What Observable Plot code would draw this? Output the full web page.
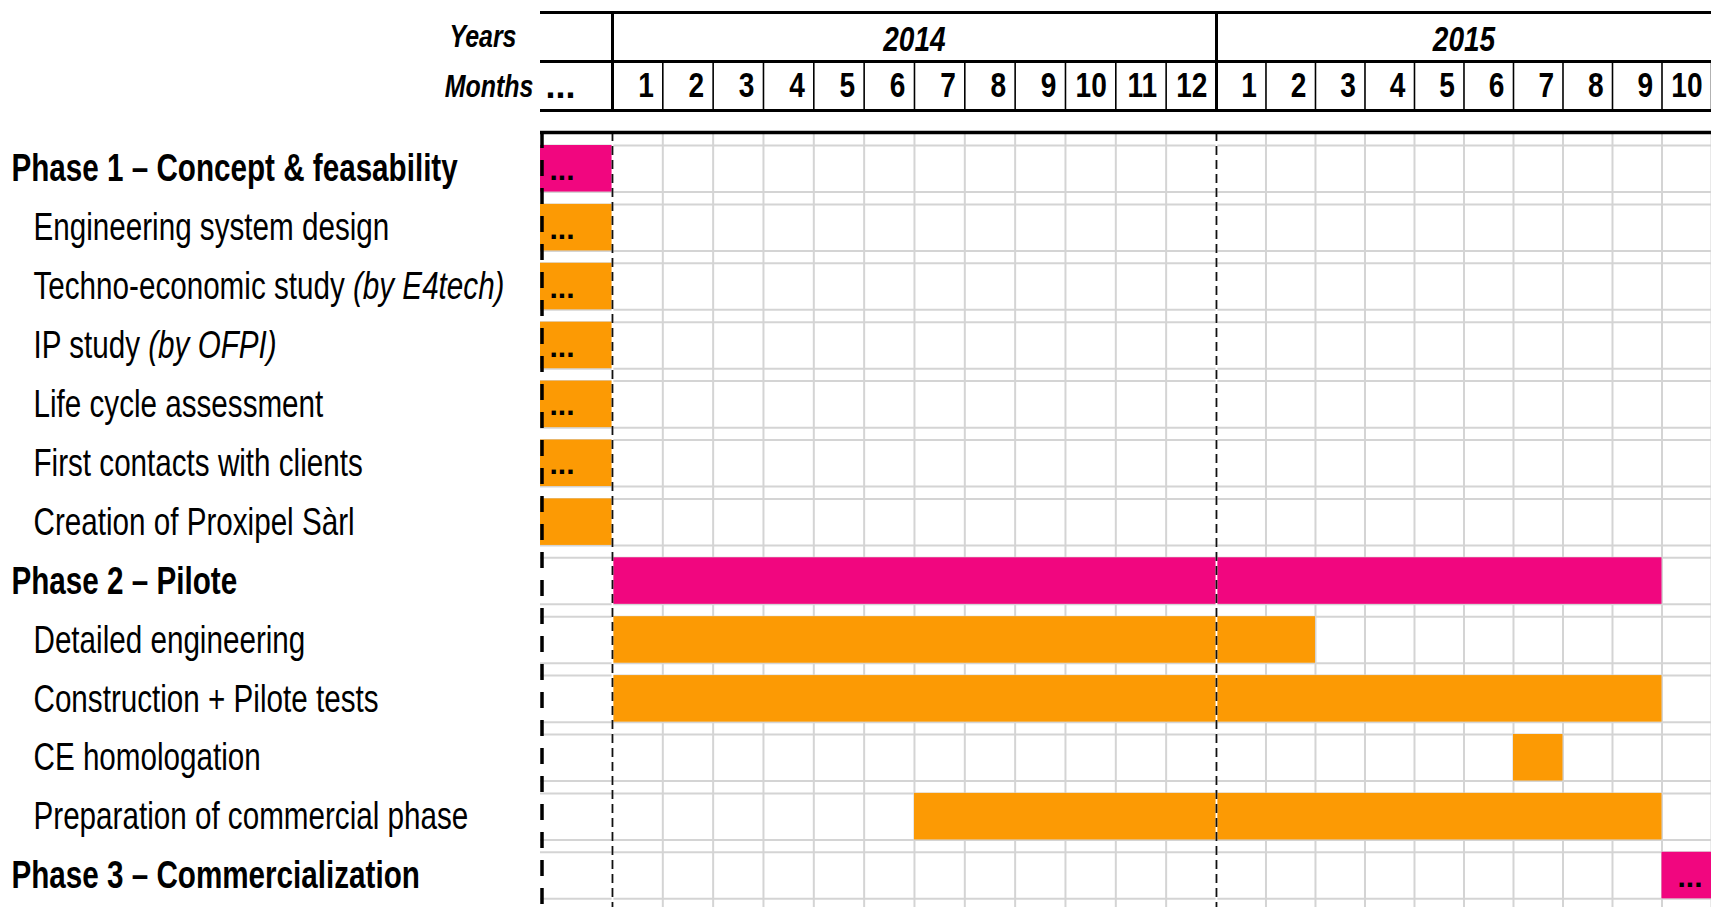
<!DOCTYPE html>
<html><head><meta charset="utf-8">
<script src="https://cdn.jsdelivr.net/npm/d3@7"></script>
<script src="https://cdn.jsdelivr.net/npm/@observablehq/plot@0.6"></script>
<style>
html,body{margin:0;padding:0;background:#fff;}
#chart svg{display:block;}
</style></head><body><div id="chart"></div>
<script>
// ---------------- data ----------------
const years = ["2014", "2015"];
const yearStart = [0, 12];          // month index where each year starts
const yearEnd = [12, 22];           // month index where its visible part ends
const monthLabels = ["1","2","3","4","5","6","7","8","9","10","11","12","1","2","3","4","5","6","7","8","9","10"];
const tasks = [
  "Phase 1 – Concept & feasability",
  "Engineering system design",
  "Techno-economic study",
  "IP study",
  "Life cycle assessment",
  "First contacts with clients",
  "Creation of Proxipel Sàrl",
  "Phase 2 – Pilote",
  "Detailed engineering",
  "Construction + Pilote tests",
  "CE homologation",
  "Preparation of commercial phase",
  "Phase 3 – Commercialization"
];
const taskNotes = ["", "", "(by E4tech)", "(by OFPI)", "", "", "", "", "", "", "", "", ""];
const isPhase = [true, false, false, false, false, false, false, true, false, false, false, false, true];
// -1 = the "…" column (before January 2014)
const taskStart = [-1, -1, -1, -1, -1, -1, -1, 0, 0, 0, 18, 6, 21];
const taskEnd   = [ 0,  0,  0,  0,  0,  0,  0, 21, 14, 21, 19, 21, 22];
const continues = ["before","before","before","before","before","before","", "", "", "", "", "", "after"];
const preLabel = "...";

// ---------------- layout ----------------
const W = 1711, H = 907;
const PRE = -1.43;                       // width of the "…" column, in months
const xpos = v => (v < 0 ? PRE : v);
const COL15 = 0.9835;                    // 2015 columns are a little narrower than 2014 ones
const warp = m => (m <= 12 ? m : 12 + (m - 12) * COL15);
const ROW0 = 145, PITCH = 58.9, BAR = 0.79;
const yv = px => (px - ROW0) / PITCH;   // pixel offset -> row units (header layout only)
const PINK = "#F1067F", ORANGE = "#FC9A04", GRID = "#d4d4d4";
const FONT = "'Liberation Sans', Arial, sans-serif";
const SQUEEZE = 0.78;                    // condensed look

const rows = tasks.map((name, i) => ({
  name, note: taskNotes[i], label: taskNotes[i] ? name + " " + taskNotes[i] : name,
  i, phase: isPhase[i], start: xpos(taskStart[i]), end: xpos(taskEnd[i]), cont: continues[i]
}));
const months = monthLabels.map((label, i) => ({label, i}));
const NM = monthLabels.length;
const boundaries = d3.range(1, NM + 1);
const yearRows = years.map((y, k) => ({y, mid: (yearStart[k] + yearEnd[k]) / 2}));

const FS_LABEL = 38, FS_HEAD = 32, FS_NUM = 36, FS_YEAR = 36, FS_DOTS = 30;

const plot = Plot.plot({
  width: W, height: H,
  marginTop: 0, marginBottom: 0, marginLeft: 0, marginRight: 0,
  x: {transform: warp, domain: [PRE, warp(NM)], range: [540, W], axis: null},
  y: {domain: [0, 13], range: [ROW0, ROW0 + 13 * PITCH], axis: null},
  color: {type: "identity"},
  style: {background: "white", fontFamily: FONT, color: "black"},
  marks: [
    // body grid
    Plot.ruleX(boundaries.filter(b => b !== 12), {x: d => d, y1: yv(132), y2: yv(H), stroke: GRID, strokeWidth: 2}),
    Plot.ruleY(rows.flatMap(r => [r.i, r.i + BAR]), {y: d => d, x1: PRE, x2: NM, stroke: GRID, strokeWidth: 2}),
    // bars
    Plot.rect(rows, {x1: "start", x2: "end", y1: "i", y2: d => d.i + BAR, fill: d => d.phase ? PINK : ORANGE}),
    // continuation dots
    Plot.text(rows.filter(d => d.cont === "before"), {x: "start", y: d => d.i + BAR / 2, text: () => preLabel, textAnchor: "start", dx: 9, dy: 1.5, fontSize: FS_DOTS, fontWeight: "bold", fill: "black", className: "nosqueeze"}),
    Plot.text(rows.filter(d => d.cont === "after"), {x: "end", y: d => d.i + BAR / 2, text: () => preLabel, textAnchor: "end", dx: -9, dy: 1.5, fontSize: FS_DOTS, fontWeight: "bold", fill: "black", className: "nosqueeze"}),
    // dashed verticals
    Plot.ruleX([PRE], {y1: yv(132), y2: yv(H), stroke: "black", strokeWidth: 3.5, strokeDasharray: "16,12", dx: 1.5}),
    Plot.ruleX([0, 12], {y1: yv(132), y2: yv(H), stroke: "white", strokeWidth: 1.8}),
    Plot.ruleX([0, 12], {y1: yv(132), y2: yv(H), stroke: "#111", strokeWidth: 1.8, strokeDasharray: "9,5"}),
    // header lines
    Plot.ruleY([yv(12), yv(61), yv(110)], {y: d => d, x1: PRE, x2: NM, stroke: "black", strokeWidth: 3}),
    Plot.ruleY([yv(132)], {y: d => d, x1: PRE, x2: NM, stroke: "black", strokeWidth: 3.5}),
    Plot.ruleX([0, 12], {y1: yv(12), y2: yv(110), stroke: "black", strokeWidth: 3}),
    Plot.ruleX(boundaries.filter(b => b !== 12), {x: d => d, y1: yv(61), y2: yv(110), stroke: "black", strokeWidth: 1.6}),
    // header text
    Plot.text(yearRows, {x: "mid", y: yv(50 - 0.32 * FS_YEAR), text: "y", fontSize: FS_YEAR, fontWeight: "bold", fontStyle: "italic", fill: "black"}),
    Plot.text(months, {x: d => d.i + 1, y: yv(96 - 0.32 * FS_NUM), text: "label", textAnchor: "end", dx: -9, fontSize: FS_NUM, fontWeight: "bold", fill: "black"}),
    Plot.text(["Years"], {x: PRE, y: yv(46 - 0.32 * FS_HEAD), text: d => d, textAnchor: "end", dx: -24, fontSize: FS_HEAD, fontWeight: "bold", fontStyle: "italic", fill: "black"}),
    Plot.text(["Months"], {x: PRE, y: yv(96 - 0.32 * FS_HEAD), text: d => d, textAnchor: "end", dx: -7, fontSize: FS_HEAD, fontWeight: "bold", fontStyle: "italic", fill: "black"}),
    Plot.text([preLabel], {x: PRE, y: yv(96 - 0.32 * FS_HEAD), text: d => d, textAnchor: "start", dx: 5, fontSize: 36, fontWeight: "bold", fill: "black", className: "nosqueeze"}),
    // row labels
    Plot.text(rows.filter(d => d.phase), {frameAnchor: "left", y: d => d.i + BAR / 2, text: "label", textAnchor: "start", dx: 11, dy: 0.5, fontSize: FS_LABEL, fontWeight: "bold", fill: "black"}),
    Plot.text(rows.filter(d => !d.phase), {frameAnchor: "left", y: d => d.i + BAR / 2, text: "label", textAnchor: "start", dx: 33, dy: 0.5, fontSize: FS_LABEL, fill: "black"})
  ]
});

// italic notes inside the task labels
const NS = "http://www.w3.org/2000/svg";
plot.querySelectorAll("text").forEach(t => {
  const s = t.textContent;
  const note = taskNotes.find(n => n && s.endsWith(n));
  if (note && s.length > note.length) {
    const head = s.slice(0, s.length - note.length);
    t.textContent = "";
    const a = document.createElementNS(NS, "tspan"); a.textContent = head;
    const b = document.createElementNS(NS, "tspan"); b.textContent = note; b.setAttribute("font-style", "italic");
    t.append(a, b);
  }
});
// condensed glyphs (the reference uses a condensed face): scale each text about its own anchor
plot.querySelectorAll("g").forEach(g => {
  if (g.getAttribute("class") && g.getAttribute("class").includes("nosqueeze")) g.dataset.keep = "1";
});
plot.querySelectorAll("text").forEach(t => {
  if (t.closest("[data-keep]")) return;
  const tr = t.getAttribute("transform") || "";
  const x = +t.getAttribute("x") || 0, y = +t.getAttribute("y") || 0;
  t.setAttribute("transform", `${tr} translate(${x},${y}) scale(${SQUEEZE},1) translate(${-x},${-y})`.trim());
});
document.getElementById("chart").append(plot);
</script>
</body></html>
